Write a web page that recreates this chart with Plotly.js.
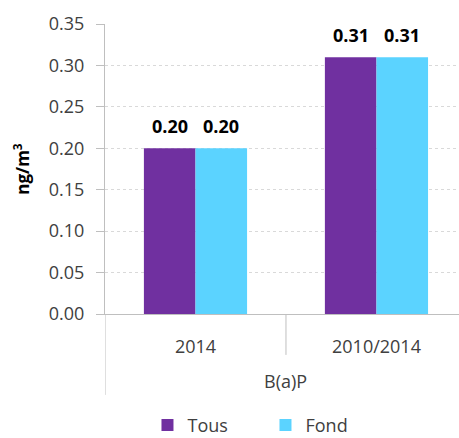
<!DOCTYPE html>
<html>
<head>
<meta charset="utf-8">
<script src="https://cdn.plot.ly/plotly-3.0.1.min.js"></script>
<style>
  html, body { margin: 0; padding: 0; background: #fff; }
  #chart { width: 459px; height: 438px; }
</style>
</head>
<body>
<div id="chart"></div>
<script>
// B(a)P mean concentrations, all sites vs. background sites
const categories = ['2014', '2010/2014'];
const tous = [0.20, 0.31];
const fond = [0.20, 0.31];
const seriesNames = ['Tous', 'Fond'];
const groupLabel = 'B(a)P';
const yTitle = 'ng/m<sup>3</sup>';
const yTickValues = [0, 0.05, 0.10, 0.15, 0.20, 0.25, 0.30, 0.35];

const FONT = 'Open Sans, Noto Sans, sans-serif';
const GREY_TEXT = '#404040';
const AXIS_GREY = '#BFBFBF';
const BAR_GAP = 0.43;

const traces = [
  {
    type: 'bar', name: seriesNames[0], x: categories, y: tous,
    marker: { color: '#7030A0' }, hoverinfo: 'y'
  },
  {
    type: 'bar', name: seriesNames[1], x: categories, y: fond,
    marker: { color: '#5BD3FF' }, hoverinfo: 'y'
  }
];

// value labels centred over each bar of the group
const barWidth = (1 - BAR_GAP) / 2;
const valueLabels = [];
[tous, fond].forEach((series, s) => {
  series.forEach((v, i) => {
    valueLabels.push({
      xref: 'x', yref: 'y',
      x: i + (s === 0 ? -barWidth / 2 : barWidth / 2),
      y: v,
      text: '<b>' + v.toFixed(2) + '</b>',
      showarrow: false,
      yanchor: 'bottom',
      yshift: 8,
      font: { family: FONT, size: 18, color: '#000' }
    });
  });
});

const layout = {
  width: 459, height: 438,
  margin: { l: 105, r: 0, t: 24, b: 124, autoexpand: false },
  paper_bgcolor: '#fff', plot_bgcolor: '#fff',
  barmode: 'group', bargap: BAR_GAP, bargroupgap: 0,
  font: { family: FONT, color: GREY_TEXT },
  xaxis: {
    type: 'category',
    range: [-0.5, 1.456],
    showline: true, linecolor: AXIS_GREY, linewidth: 1,
    ticks: '', showgrid: false, zeroline: false,
    tickfont: { family: FONT, size: 18, color: GREY_TEXT },
    ticklabelstandoff: 16,
    fixedrange: true
  },
  yaxis: {
    range: [0, 0.35],
    tickvals: yTickValues,
    tickformat: '.2f',
    ticks: 'outside', ticklen: 8, tickcolor: AXIS_GREY,
    showline: true, linecolor: AXIS_GREY, linewidth: 1,
    showgrid: true, gridcolor: '#D9D9D9', griddash: 'dot', gridwidth: 1,
    zeroline: false,
    tickfont: { family: FONT, size: 18, color: GREY_TEXT },
    ticklabelstandoff: 8,
    title: { text: '<b>' + yTitle + '</b>', font: { family: FONT, size: 17, color: '#000' }, standoff: 14 },
    fixedrange: true
  },
  showlegend: true,
  legend: {
    orientation: 'h',
    x: 0.12, xanchor: 'left', xref: 'paper',
    y: -0.448, yanchor: 'bottom', yref: 'paper',
    entrywidth: 73, entrywidthmode: 'pixels',
    font: { family: FONT, size: 18, color: GREY_TEXT },
    bgcolor: 'rgba(0,0,0,0)'
  },
  shapes: [
    // divider between the two periods
    { type: 'line', xref: 'x', yref: 'paper', x0: 0.5, x1: 0.5, y0: 0, y1: -0.141,
      line: { color: AXIS_GREY, width: 1 } },
    // outer divider continuing the value axis
    { type: 'line', xref: 'x', yref: 'paper', x0: -0.5, x1: -0.5, y0: 0, y1: -0.279,
      line: { color: AXIS_GREY, width: 1 } }
  ],
  annotations: valueLabels.concat([
    { xref: 'x', yref: 'paper', x: 0.5, y: -0.231, yanchor: 'middle',
      text: groupLabel, showarrow: false,
      font: { family: FONT, size: 18, color: GREY_TEXT } }
  ])
};

Plotly.newPlot('chart', traces, layout, { displayModeBar: false, staticPlot: true });
</script>
</body>
</html>
